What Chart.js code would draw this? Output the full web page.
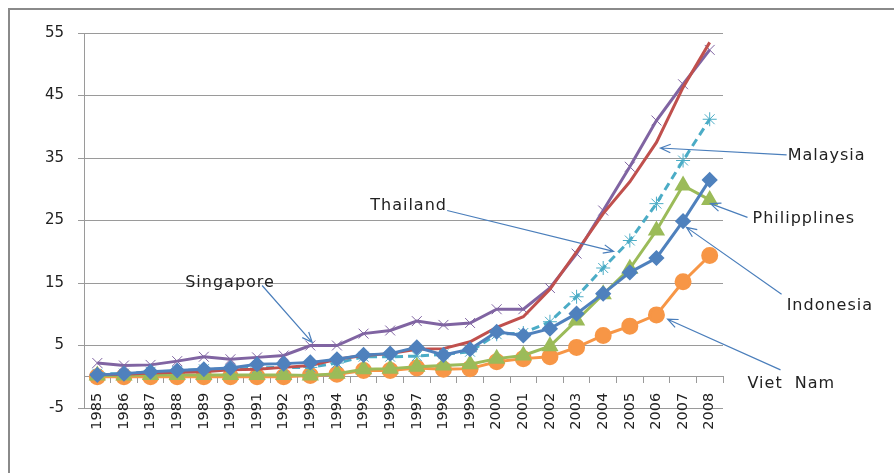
<!DOCTYPE html>
<html>
<head>
<meta charset="utf-8">
<script src="https://cdn.jsdelivr.net/npm/chart.js@4.4.0/dist/chart.umd.min.js"></script>
<style>
  html, body { margin: 0; padding: 0; background: #fff; }
  #box { width: 894px; height: 473px; }
</style>
</head>
<body>
<div id="box"><canvas id="chart"></canvas></div>
<script>
// Data
const years = ['1985', '1986', '1987', '1988', '1989', '1990', '1991', '1992', '1993', '1994', '1995', '1996',
               '1997', '1998', '1999', '2000', '2001', '2002', '2003', '2004', '2005', '2006', '2007', '2008'];

const indonesia   = [0.3, 0.5, 0.8, 1.0, 1.2, 1.4, 2.0, 2.1, 2.3, 2.8, 3.5, 3.7, 4.7, 3.5, 4.4, 7.2, 6.6, 7.7, 10.1, 13.3, 16.7, 19.0, 24.9, 31.5];
const malaysia    = [0.3, 0.4, 0.6, 0.7, 0.8, 1.1, 1.2, 1.5, 1.8, 2.8, 3.4, 3.7, 4.4, 4.5, 5.6, 7.9, 9.6, 14.0, 20.0, 26.1, 31.2, 37.5, 46.3, 53.5];
const philippines = [0.2, 0.2, 0.3, 0.3, 0.3, 0.3, 0.3, 0.3, 0.2, 0.5, 1.2, 1.3, 1.6, 1.8, 2.0, 2.9, 3.4, 4.9, 9.0, 13.2, 17.3, 23.4, 30.6, 28.3];
const singapore   = [2.2, 1.8, 1.9, 2.5, 3.2, 2.8, 3.1, 3.4, 5.0, 5.0, 6.9, 7.4, 8.9, 8.3, 8.6, 10.8, 10.8, 14.2, 19.7, 26.6, 33.6, 41.0, 46.8, 52.3];
const thailand    = [0.5, 0.5, 0.8, 0.9, 1.2, 1.2, 1.4, 1.5, 1.5, 2.2, 3.2, 3.2, 3.3, 3.6, 4.0, 6.8, 7.0, 8.8, 12.8, 17.4, 21.8, 27.7, 34.6, 41.2];
const vietnam     = [0.0, 0.0, 0.0, 0.0, 0.0, 0.0, 0.0, 0.0, 0.2, 0.4, 1.0, 1.0, 1.4, 1.2, 1.3, 2.4, 2.9, 3.2, 4.7, 6.6, 8.1, 9.9, 15.2, 19.4];

const yMin = -5, yMax = 55, yStep = 10;

// Callout labels: text position and arrow, in (category index, value) units
const callouts = [
    { text: 'Malaysia',     at: [25.93, 35.4], from: [25.89, 35.5], to: [21.15, 36.6] },
    { text: 'Philipplines', at: [24.61, 25.2], from: [24.42, 25.5], to: [23.03, 27.7] },
    { text: 'Thailand',     at: [10.25, 27.4], from: [13.14, 26.6], to: [19.39, 20.05] },
    { text: 'Singapore',    at: [3.30, 14.95], from: [6.19, 14.6],  to: [8.07, 5.5] },
    { text: 'Indonesia',    at: [25.89, 11.3], from: [25.70, 13.2], to: [22.13, 23.9] },
    { text: 'Viet  Nam',    at: [24.42, -1.2], from: [25.66, 1.1],  to: [21.42, 9.2] }
];

const grey = '#9a9a9a';

// frame + white background
const framePlugin = {
    id: 'frame',
    beforeDraw(chart) {
        const ctx = chart.ctx;
        ctx.save();
        ctx.fillStyle = '#fff';
        ctx.fillRect(0, 0, chart.width, chart.height);
        ctx.strokeStyle = '#8a8a8a';
        ctx.lineWidth = 2;
        ctx.beginPath();
        ctx.moveTo(9, chart.height);
        ctx.lineTo(9, 9);
        ctx.lineTo(chart.width, 9);
        ctx.stroke();
        ctx.restore();
    }
};

// text labels with arrows
const calloutPlugin = {
    id: 'callouts',
    afterDraw(chart) {
        const ctx = chart.ctx;
        const xs = chart.scales.x, ys = chart.scales.y;
        const pt = (p) => [xs.getPixelForValue(p[0]), ys.getPixelForValue(p[1])];
        ctx.save();
        ctx.font = '16px "DejaVu Sans"';
        ctx.letterSpacing = '1px';
        ctx.fillStyle = '#222';
        ctx.textBaseline = 'middle';
        ctx.strokeStyle = '#4a7ebb';
        ctx.lineWidth = 1.2;
        callouts.forEach((c) => {
            const [tx, ty] = pt(c.at);
            ctx.fillText(c.text, tx, ty);
            const [x1, y1] = pt(c.from);
            const [x2, y2] = pt(c.to);
            ctx.beginPath();
            ctx.moveTo(x1, y1);
            ctx.lineTo(x2, y2);
            const a = Math.atan2(y2 - y1, x2 - x1);
            const len = 11;
            ctx.moveTo(x2 - len * Math.cos(a - 0.4), y2 - len * Math.sin(a - 0.4));
            ctx.lineTo(x2, y2);
            ctx.lineTo(x2 - len * Math.cos(a + 0.4), y2 - len * Math.sin(a + 0.4));
            ctx.stroke();
        });
        ctx.restore();
    }
};

const makeSet = (label, data, color, extra) => Object.assign({
    label: label,
    data: data,
    borderColor: color,
    backgroundColor: color,
    borderWidth: 3,
    tension: 0,
    pointBorderColor: color,
    pointBackgroundColor: color
}, extra);

let chart = new Chart(document.getElementById('chart'), {
    type: 'line',
    data: {
        labels: years,
        datasets: [
            makeSet('Indonesia', indonesia, '#4f81bd', { pointStyle: 'rectRot', pointRadius: 6 }),
            makeSet('Malaysia', malaysia, '#c0504d', { pointRadius: 0 }),
            makeSet('Philippines', philippines, '#9bbb59', { pointStyle: 'triangle', pointRadius: 7 }),
            makeSet('Singapore', singapore, '#8064a2', { pointStyle: 'crossRot', pointRadius: 7, pointBorderWidth: 1 }),
            makeSet('Thailand', thailand, '#4bacc6', { pointStyle: 'star', pointRadius: 7, pointBorderWidth: 1, borderDash: [8, 5] }),
            makeSet('Viet Nam', vietnam, '#f79646', { pointStyle: 'circle', pointRadius: 7 })
        ]
    },
    options: {
        responsive: true,
        maintainAspectRatio: false,
        animation: false,
        layout: { padding: { left: 0, top: 33, right: 171, bottom: 65 } },
        plugins: {
            legend: { display: false },
            tooltip: { enabled: false }
        },
        scales: {
            x: {
                position: { y: 0 },
                offset: true,
                grid: { offset: true, drawOnChartArea: false, drawTicks: true, tickLength: 6, color: grey },
                border: { display: true, color: grey, width: 1 },
                ticks: {
                    autoSkip: false, minRotation: 90, maxRotation: 90, padding: 10,
                    color: '#222', font: { family: 'DejaVu Sans', size: 14.5 }
                }
            },
            y: {
                min: yMin,
                max: yMax,
                afterFit: (scale) => { scale.width = 84; },
                grid: { color: grey, tickLength: 6 },
                border: { display: true, color: grey, width: 1 },
                ticks: {
                    stepSize: yStep, padding: 14,
                    color: '#222', font: { family: 'DejaVu Sans', size: 15 }
                }
            }
        }
    },
    plugins: [framePlugin, calloutPlugin]
});
</script>
</body>
</html>
